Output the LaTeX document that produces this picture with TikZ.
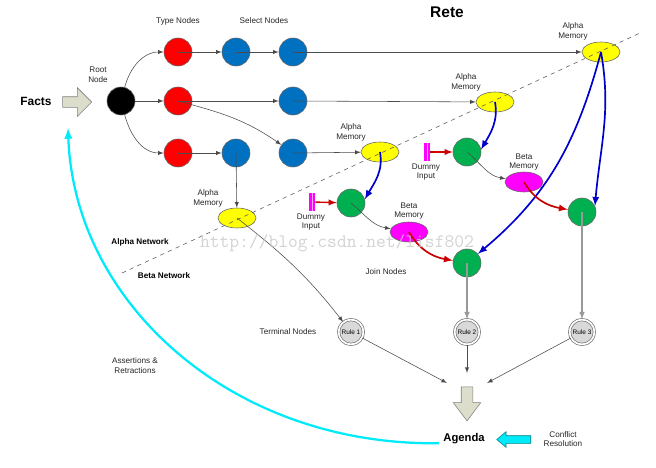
\documentclass[tikz,border=0pt]{standalone}
\usepackage{fontspec}
\setmainfont{Liberation Sans}
\usepackage{tikz}
\usetikzlibrary{arrows,shapes.geometric,shapes.arrows}
\definecolor{typered}{RGB}{255,0,0}
\definecolor{selblue}{RGB}{0,112,192}
\definecolor{joingreen}{RGB}{0,176,80}
\definecolor{memyellow}{RGB}{255,255,0}
\definecolor{memmagenta}{RGB}{255,0,255}
\definecolor{flowblue}{RGB}{0,0,204}
\definecolor{flowred}{RGB}{204,0,0}
\definecolor{blockfill}{RGB}{221,221,204}
\definecolor{loopcyan}{RGB}{0,235,250}
\newcommand{\lblfont}{\fontsize{5.8}{7}\selectfont}
\newcommand{\netfont}{\fontsize{5.8}{7}\selectfont\bfseries}
\tikzset{
	reteball/.style={circle, draw=black!60, line width=0.4pt, minimum size=0.7cm, inner sep=0pt},
	rootnode/.style={reteball, fill=black},
	typenode/.style={reteball, fill=typered},
	selnode/.style={reteball, fill=selblue},
	joinnode/.style={reteball, fill=joingreen},
	alphamem/.style={ellipse, draw=black!60, line width=0.4pt, fill=memyellow, minimum width=0.95cm, minimum height=0.5cm, inner sep=0pt},
	betamem/.style={alphamem, fill=memmagenta},
	rulenode/.style={circle, draw=black!55, fill=black!15, double=white, double distance=1.2pt, line width=0.5pt, minimum size=0.62cm, inner sep=0pt, font=\fontsize{4.6}{5}\selectfont},
	dummybar/.style={rectangle, fill=memmagenta, minimum width=0.15cm, minimum height=0.47cm, inner sep=0pt,
		path picture={\fill[memmagenta!35] ([xshift=-0.35pt]path picture bounding box.north) rectangle ([xshift=0.35pt]path picture bounding box.south);}},
	blockarrow/.style={single arrow, draw=black!50, line width=0.4pt, fill=blockfill, single arrow head indent=0pt},
	lbl/.style={font=\lblfont, align=center, text=black!85, inner sep=1pt},
	netlbl/.style={font=\netfont, inner sep=1pt},
	conn/.style={-latex, draw=black!70, line width=0.4pt},
	termconn/.style={-latex, draw=black!40, line width=0.8pt},
	blueflow/.style={-latex, draw=flowblue, line width=1.2pt},
	redflow/.style={-latex, draw=flowred, line width=1.2pt},
}
\begin{document}
\begin{tikzpicture}[x=0.025cm,y=0.025cm]
	\useasboundingbox (0,0) rectangle (656,-467);
	\node[font=\fontsize{11}{13}\selectfont\bfseries] (title) at (447,-12) {Rete};
	\node[font=\fontsize{8.5}{10}\selectfont\bfseries] (facts) at (36,-101) {Facts};
	\node[blockarrow, minimum height=0.725cm, inner sep=0.125cm, single arrow head extend=0.225cm] (factsarrow) at (74.5,-102) {};
	%
	\node[rootnode] (root) at (121,-101) {};
	\node[typenode] (t1) at (178,-52) {};
	\node[typenode] (t2) at (178,-101) {};
	\node[typenode] (t3) at (178,-153) {};
	\node[selnode] (s1) at (236,-52) {};
	\node[selnode] (s2) at (293,-52) {};
	\node[selnode] (s3) at (293,-101) {};
	\node[selnode] (s4) at (236,-153) {};
	\node[selnode] (s5) at (293,-153) {};
	\node[alphamem] (a1) at (601,-52) {};
	\node[alphamem] (a2) at (495,-102) {};
	\node[alphamem] (a3) at (380,-152) {};
	\node[alphamem] (a4) at (237,-218) {};
	\node[joinnode] (g1) at (467,-152) {};
	\node[joinnode] (g2) at (351,-203) {};
	\node[joinnode] (g3) at (582,-212) {};
	\node[joinnode] (g4) at (467,-263) {};
	\node[betamem] (b1) at (524,-182) {};
	\node[betamem] (b2) at (409,-232) {};
	\node[dummybar] (d1) at (427,-152) {};
	\node[dummybar] (d2) at (312,-202) {};
	\node[rulenode] (r1) at (351,-332) {Rule 1};
	\node[rulenode] (r2) at (467,-332) {Rule 2};
	\node[rulenode] (r3) at (582,-332) {Rule 3};
	\coordinate (ag1) at (447,-383);
	\coordinate (ag2) at (467,-373);
	\coordinate (ag3) at (487,-383);
	\node[blockarrow, rotate=-90, minimum height=0.85cm, inner sep=0.1375cm, single arrow head extend=0.2cm, single arrow tip angle=74] (agarrow) at (467,-400) {};
	\node[font=\fontsize{8}{10}\selectfont\bfseries, inner sep=3pt] (agenda) at (464,-439) {Agenda};
	\node[single arrow, draw=black!45!loopcyan, fill=loopcyan, line width=0.4pt, rotate=180, minimum height=0.85cm, inner sep=0.0875cm, single arrow head extend=0.1cm, single arrow tip angle=80, single arrow head indent=0pt] (cfarrow) at (516,-439.5) {};
	\coordinate (ret) at (68,-128);
	%
	\node[lbl] (rootlbl) at (98,-75) {Root\\Node};
	\node[lbl] (typelbl) at (178,-21) {Type Nodes};
	\node[lbl] (sellbl) at (264,-21) {Select Nodes};
	\node[lbl] (a1lbl) at (573,-31) {Alpha\\Memory};
	\node[lbl] (a2lbl) at (466,-82) {Alpha\\Memory};
	\node[lbl] (a3lbl) at (351,-132) {Alpha\\Memory};
	\node[lbl] (a4lbl) at (208,-198) {Alpha\\Memory};
	\node[lbl] (b1lbl) at (524,-162) {Beta\\Memory};
	\node[lbl] (b2lbl) at (409,-211) {Beta\\Memory};
	\node[lbl] (d1lbl) at (426,-172) {Dummy\\Input};
	\node[lbl] (d2lbl) at (311,-222) {Dummy\\Input};
	\node[lbl] (joinlbl) at (386,-272) {Join Nodes};
	\node[lbl] (termlbl) at (288,-332) {Terminal Nodes};
	\node[lbl] (assertlbl) at (135,-366) {Assertions \&\\Retractions};
	\node[lbl] (conflbl) at (563,-439) {Conflict\\Resolution};
	\node[netlbl] (alphanet) at (140,-242) {Alpha Network};
	\node[netlbl] (betanet) at (164,-276) {Beta Network};
	%
	\coordinate (sepa) at (122,-273);
	\coordinate (sepb) at (640,-33);
	\draw[dashed, black!65, line width=0.4pt] (sepa) -- (sepb);
	%
	\draw[conn] (root) to[out=75,in=180] (t1);
	\draw[conn] (root) -- (t2);
	\draw[conn] (root) to[out=-75,in=180] (t3);
	\draw[conn] (t1.center) -- (s1);
	\draw[conn] (s1.center) -- (s2);
	\draw[conn] (s2.center) -- (a1);
	\draw[conn] (t2.center) -- (s3);
	\draw[conn] (s3.center) -- (a2);
	\draw[conn] (t2.center) to[out=-15,in=145] (s5);
	\draw[conn] (t3.center) -- (s4);
	\draw[conn] (s4.center) -- (a4);
	\draw[conn] (s5.center) -- (a3);
	%
	\draw[blueflow] (a3.center) to[out=-80,in=60] (g2.15);
	\draw[blueflow] (a2.center) to[out=-80,in=60] (g1.10);
	\draw[blueflow] (a1.center) to[out=-80,in=85] (g3.25);
	\draw[blueflow] (a1.center) to[out=-105,in=40] (g4);
	\draw[redflow, line width=1pt] (d1) -- (g1);
	\draw[redflow, line width=1pt] (d2) -- (g2);
	\draw[conn] (g1.center) to[out=-40,in=170] (b1);
	\draw[conn] (g2.center) to[out=-40,in=170] (b2);
	\draw[redflow] (b1.center) to[out=-60,in=170] (g3);
	\draw[redflow] (b2.center) to[out=-60,in=170] (g4);
	%
	\draw[conn] (a4.center) to[out=-38,in=128] (r1);
	\draw[termconn] (g4.center) -- (r2);
	\draw[termconn] (g3.center) -- (r3);
	\draw[conn] (r1) -- (ag1);
	\draw[conn] (r2) -- (ag2);
	\draw[conn] (r3) -- (ag3);
	\draw[-latex, draw=loopcyan, line width=1.6pt] ([yshift=-3pt]agenda.west) .. controls (232,-446) and (74,-303) .. (ret);
	%
	\node[font=\ttfamily\fontsize{13.5}{14}\selectfont, text=black!22, opacity=0.8] (mark) at (337,-243) {http://blog.csdn.net/lisf802};
\end{tikzpicture}
\end{document}
